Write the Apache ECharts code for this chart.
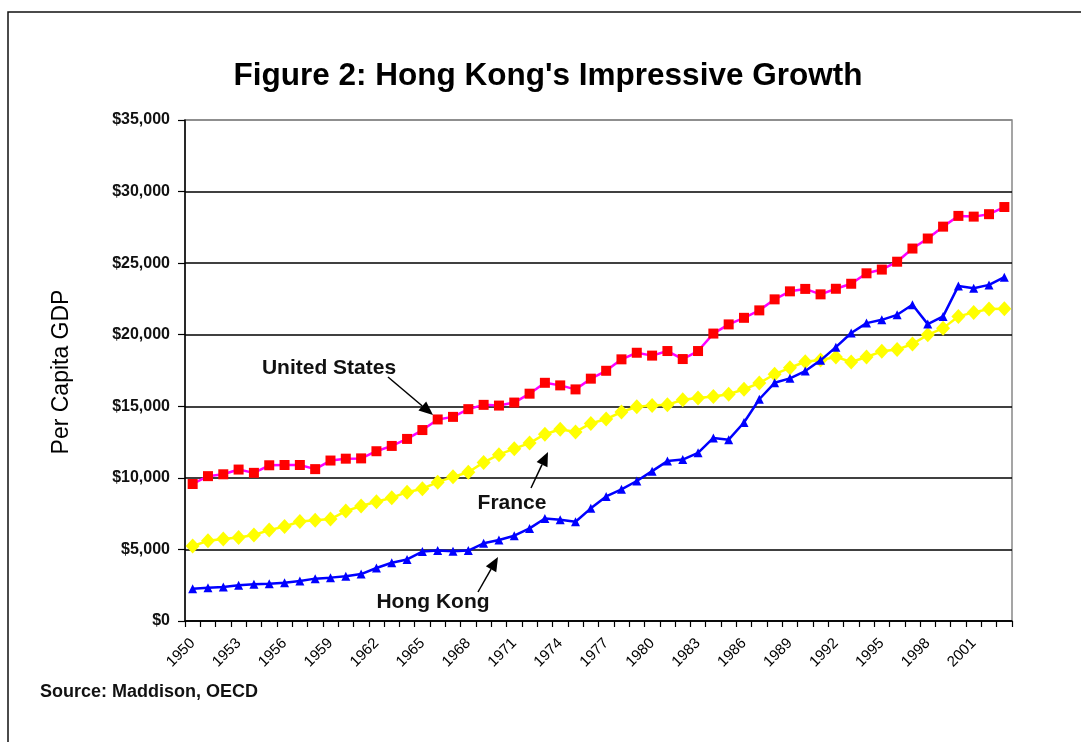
<!DOCTYPE html>
<html>
<head>
<meta charset="utf-8">
<script src="https://cdn.jsdelivr.net/npm/echarts@6/dist/echarts.min.js"></script>
<style>
html,body{margin:0;padding:0;background:#fff;}
#chart{width:1081px;height:742px;}
</style>
</head>
<body>
<div id="chart"></div>
<script>
var years = ['1950','1951','1952','1953','1954','1955','1956','1957','1958','1959',
'1960','1961','1962','1963','1964','1965','1966','1967','1968','1969',
'1970','1971','1972','1973','1974','1975','1976','1977','1978','1979',
'1980','1981','1982','1983','1984','1985','1986','1987','1988','1989',
'1990','1991','1992','1993','1994','1995','1996','1997','1998','1999',
'2000','2001','2002','2003'];

var unitedStates = [9570,10120,10250,10580,10350,10880,10900,10900,10610,11210,
11340,11360,11860,12230,12720,13340,14080,14260,14800,15100,
15050,15260,15880,16640,16460,16180,16930,17480,18280,18740,
18540,18860,18300,18860,20080,20720,21180,21700,22470,23030,
23200,22820,23210,23560,24290,24550,25100,26020,26720,27550,
28300,28250,28420,28920];

var france = [5240,5600,5730,5840,6010,6350,6600,6950,7040,7120,
7680,8030,8330,8610,9000,9240,9700,10070,10390,11080,
11620,12040,12430,13050,13400,13210,13800,14110,14600,14970,
15050,15100,15460,15580,15690,15840,16190,16620,17240,17690,
18110,18240,18450,18090,18440,18840,18960,19350,19990,20460,
21280,21560,21790,21810];

var hongKong = [2260,2330,2380,2490,2560,2610,2680,2800,2960,3030,
3120,3280,3700,4070,4300,4850,4920,4870,4920,5430,
5660,5960,6470,7160,7080,6930,7870,8700,9200,9780,
10470,11170,11280,11750,12790,12670,13870,15490,16640,16950,
17460,18210,19130,20120,20810,21040,21390,22090,20740,21280,
23410,23250,23480,24020];

var yTicks = [0,5000,10000,15000,20000,25000,30000,35000];

function fmtMoney(v){
  return '$' + String(v).replace(/\B(?=(\d{3})+(?!\d))/g, ',');
}

var chart = echarts.init(document.getElementById('chart'), null, {renderer:'canvas'});

function arrow(x1,y1,x2,y2){
  var dx=x2-x1, dy=y2-y1, L=Math.sqrt(dx*dx+dy*dy);
  var ux=dx/L, uy=dy/L, hl=14, hw=6;
  var bx=x2-ux*hl, by=y2-uy*hl;
  return [
    {type:'line', shape:{x1:x1,y1:y1,x2:bx,y2:by}, style:{stroke:'#000',lineWidth:1.5}, z:100},
    {type:'polygon', shape:{points:[[x2,y2],[bx-uy*hw,by+ux*hw],[bx+uy*hw,by-ux*hw]]}, style:{fill:'#000'}, z:100}
  ];
}

var font = 'Liberation Sans, Arial, sans-serif';
var graphics = [
  {type:'rect', shape:{x:8,y:12,width:1200,height:900}, style:{fill:'none',stroke:'#111',lineWidth:1.5}, z:-10},
  {type:'text', x:548, y:76, style:{text:"Figure 2: Hong Kong's Impressive Growth", font:'bold 31.5px '+font, fill:'#000', textAlign:'center', textVerticalAlign:'middle'}},
  {type:'text', x:62, y:372, rotation:Math.PI/2, style:{text:'Per Capita GDP', font:'23px '+font, fill:'#000', textAlign:'center', textVerticalAlign:'middle'}},
  {type:'text', x:40, y:692, style:{text:'Source: Maddison, OECD', font:'bold 18px '+font, fill:'#111', textAlign:'left', textVerticalAlign:'middle'}},
  {type:'text', x:329, y:368, style:{text:'United States', font:'bold 21px '+font, fill:'#111', textAlign:'center', textVerticalAlign:'middle'}},
  {type:'text', x:512, y:503, style:{text:'France', font:'bold 21px '+font, fill:'#111', textAlign:'center', textVerticalAlign:'middle'}},
  {type:'text', x:433, y:602, style:{text:'Hong Kong', font:'bold 21px '+font, fill:'#111', textAlign:'center', textVerticalAlign:'middle'}}
].concat(arrow(388,377,433,415)).concat(arrow(531,488,548,452)).concat(arrow(478,592,498,557));

var option = {
  backgroundColor:'#fff',
  animation:false,
  grid:{left:185, right:69, top:120, bottom:121, show:true, borderColor:'#888', borderWidth:1.5},
  xAxis:{
    type:'category', data:years, boundaryGap:true,
    axisLine:{lineStyle:{color:'#000', width:1.5}},
    axisTick:{show:true, interval:0, length:6, lineStyle:{color:'#000', width:1.2}},
    axisLabel:{interval:2, rotate:45, fontSize:15, color:'#000', fontFamily:font, margin:20},
    splitLine:{show:false}
  },
  yAxis:{
    type:'value', min:0, max:35000, interval:5000,
    axisLine:{show:true, lineStyle:{color:'#000', width:1.5}},
    axisTick:{show:true, length:7, lineStyle:{color:'#000', width:1.2}},
    axisLabel:{formatter:function(v){return fmtMoney(v);}, fontSize:16, fontWeight:'bold', color:'#111', fontFamily:font, margin:15},
    splitLine:{show:true, lineStyle:{color:['#000','#000','#000','#000','#000','#000','#000','#888'], width:1.5}}
  },
  series:[
    {name:'United States', type:'line', data:unitedStates, symbol:'rect', symbolSize:10, showAllSymbol:true,
     lineStyle:{color:'#FF00FF', width:2.5}, itemStyle:{color:'#FF0000'}, z:3},
    {name:'France', type:'line', data:france, symbol:'diamond', symbolSize:[14,15], showAllSymbol:true,
     lineStyle:{color:'#FFFF00', width:2.5}, itemStyle:{color:'#FFFF00'}, z:2},
    {name:'Hong Kong', type:'line', data:hongKong, symbol:'triangle', symbolSize:9, showAllSymbol:true,
     lineStyle:{color:'#0000FF', width:2.5}, itemStyle:{color:'#0000FF'}, z:4}
  ],
  graphic:graphics
};
chart.setOption(option);
</script>
</body>
</html>
